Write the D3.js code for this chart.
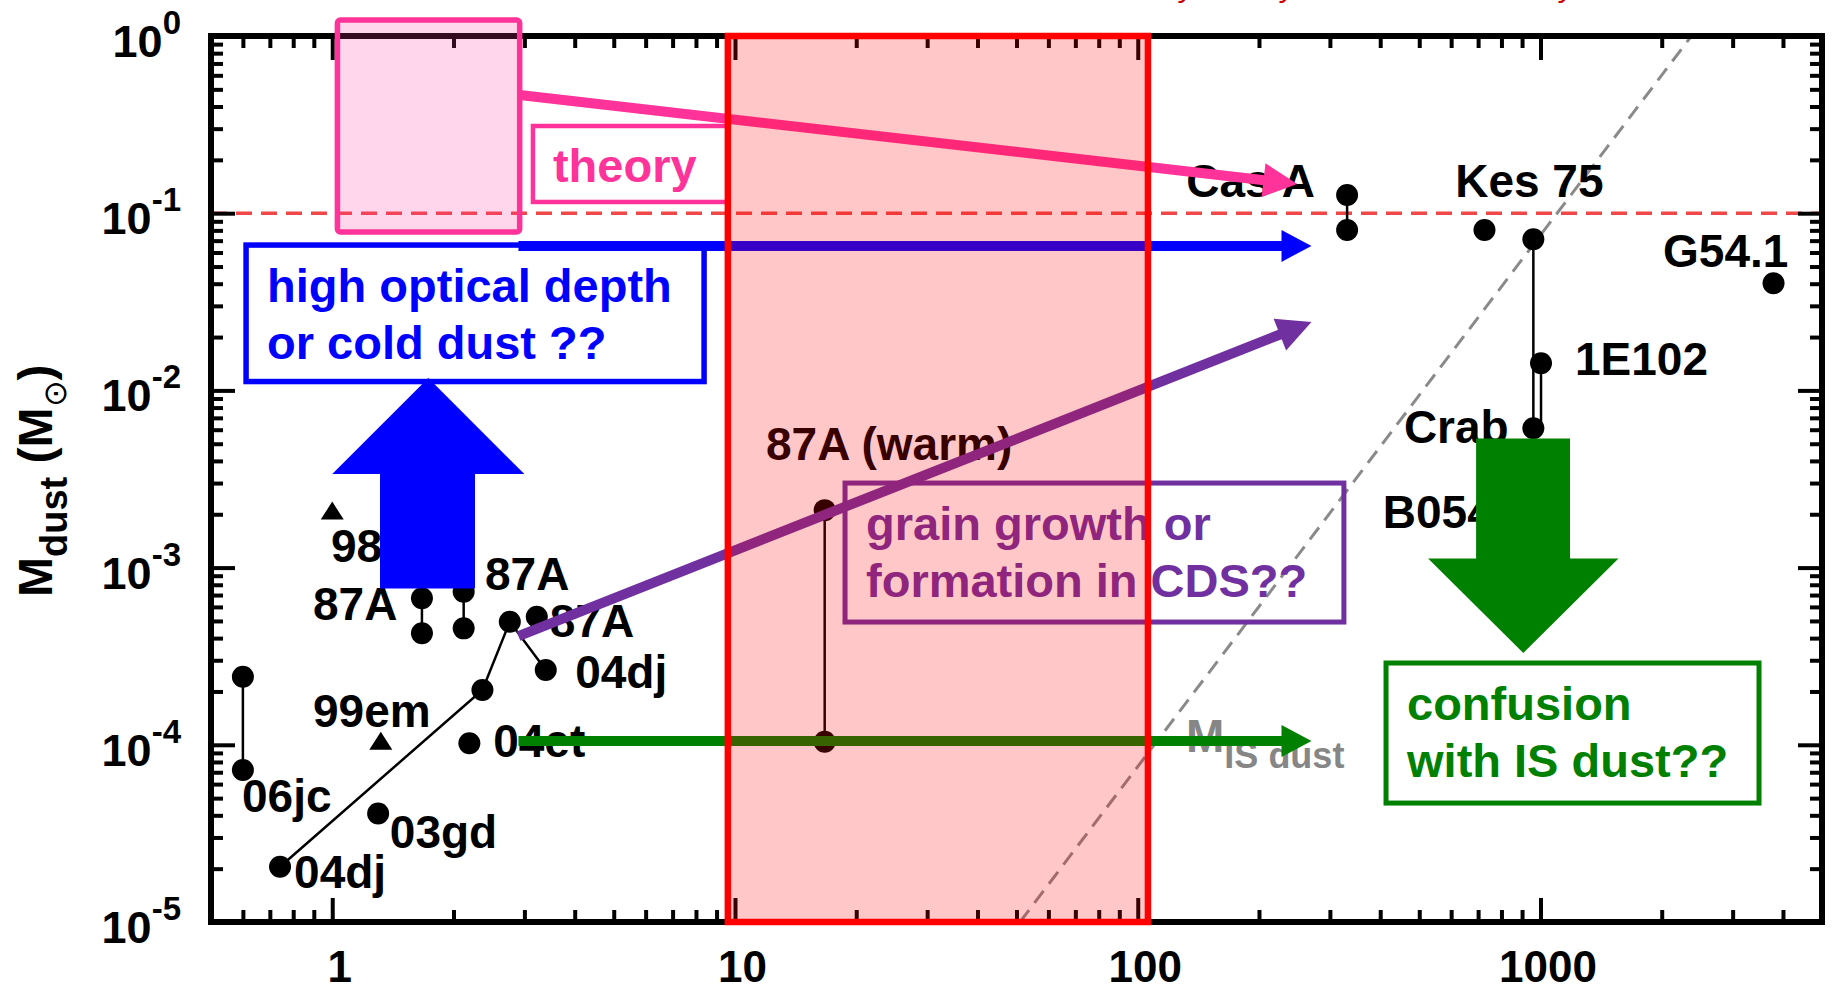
<!DOCTYPE html>
<html>
<head>
<meta charset="utf-8">
<script src="https://cdn.jsdelivr.net/npm/d3@7"></script>
<style>
  html, body { margin: 0; padding: 0; background: #fff; }
  svg { display: block; font-family: "Liberation Sans", Arial, Helvetica, sans-serif; font-weight: bold; }
</style>
</head>
<body>
<svg id="chart" width="1835" height="990"></svg>
<script>
// dust mass vs age: [age (yr), M_dust (Msun)]
const sn06jc    = [[0.6, 2.42e-4], [0.6, 7.2e-5]];
const sn04dj    = [[0.742, 2.05e-5], [2.36, 2.04e-4], [2.76, 4.95e-4], [3.39, 2.64e-4]];
const sn87A_a   = [[1.67, 6.71e-4], [1.67, 4.26e-4]];
const sn87A_b   = [[2.12, 7.31e-4], [2.12, 4.54e-4]];
const sn87A_c   = [[3.22, 5.28e-4]];
const sn87Awarm = [[16.7, 2.11e-3], [16.7, 1.04e-4]];
const sn03gd    = [[1.3, 4.1e-5]];
const sn04et    = [[2.19, 1.02e-4]];
const casA      = [[331, 0.1267], [331, 0.0804]];
const kes75     = [[726, 0.0804]];
const kesCrab   = [[960, 0.0713], [960, 6.11e-3]];
const e0102     = [[1003, 0.01422], [1003, 6.11e-3]];
const g541      = [[3790, 0.0402]];
// upper limits (triangles): 98S, 99em
const limits    = [[1.0, 2.07e-3], [1.32, 1.04e-4]];

const joined = [sn06jc, sn04dj, sn87A_a, sn87A_b, sn87Awarm, casA, kesCrab, e0102];
const dots = [].concat(sn06jc, sn04dj, sn87A_a, sn87A_b, sn87A_c, sn87Awarm, sn03gd,
                       sn04et, casA, kes75, kesCrab, [e0102[0]], g541);

// object names, anchored (left, baseline) in data units
const labelText = ["Cas A", "Kes 75", "G54.1", "1E102", "Crab", "B0540", "87A (warm)", "98S",
                   "87A", "87A", "87A", "04dj", "99em", "04et", "06jc", "03gd", "04dj"];
const labelAt = [[132, 0.1234], [614, 0.1234], [2015, 0.0497], [1218, 0.01222], [458, 5.05e-3],
                 [406, 1.67e-3], [11.94, 4.05e-3], [0.993, 1.075e-3], [0.896, 5.06e-4],
                 [2.395, 7.47e-4], [3.47, 4.06e-4], [4.01, 2.09e-4], [0.896, 1.26e-4],
                 [2.51, 8.53e-5], [0.597, 4.18e-5], [1.39, 2.62e-5], [0.804, 1.555e-5]];

// reference lines
const theoryLevel = 0.1;
const isDustLine = [[51, 1e-5], [2370, 1]];

// ticks
const xMajor = [1, 10, 100, 1000];
const xTickLabels = ["1", "10", "100", "1000"];
const yMajor = [1e-5, 1e-4, 1e-3, 1e-2, 1e-1, 1];
const yExp = ["-5", "-4", "-3", "-2", "-1", "0"];

// annotation overlays (data units)
const pinkBox   = [[1.03, 2.92], [0.0783, 1.23]];
const theoryBox = [[3.15, 9.6], [0.1157, 0.3105]];
const blueBox   = [[0.611, 8.38], [0.01122, 0.0661]];
const purpleBox = [[18.76, 325], [4.93e-4, 3.0e-3]];
const greenBox  = [[413.5, 3488], [4.69e-5, 2.894e-4]];
const redBand   = [[9.6, 106], [1e-5, 1]];
const arrowPink   = [[2.92, 0.465], [249, 0.146]];
const arrowBlue   = [[2.9, 0.0654], [270, 0.0654]];
const arrowPurple = [[2.9, 4.11e-4], [270, 0.0243]];
const arrowGreen  = [[2.9, 1.05e-4], [270, 1.05e-4]];
const blueUp    = {shaft: [1.314, 2.262], head: [1.0, 3.0], tail: 7.62e-4, neck: 3.37e-3, tip: 0.01175};
const greenDown = {shaft: [692, 1184], head: [526, 1562], tail: 5.35e-3, neck: 1.125e-3, tip: 3.3e-4};

const svg = d3.select("#chart");
const x = d3.scaleLog().domain([0.5, 5000]).range([211, 1822]);
const y = d3.scaleLog().domain([1e-5, 1]).range([922, 36]);
const X0 = x.range()[0], X1 = x.range()[1], Y0 = y.range()[1], Y1 = y.range()[0];

svg.append("defs").append("clipPath").attr("id", "plot")
  .append("rect").attr("x", X0).attr("y", Y0).attr("width", X1 - X0).attr("height", Y1 - Y0);

// dashed reference lines
const ref = svg.append("g").attr("clip-path", "url(#plot)");
ref.append("line")
  .attr("x1", X0).attr("x2", X1).attr("y1", y(theoryLevel)).attr("y2", y(theoryLevel))
  .attr("stroke", "#f04848").attr("stroke-width", 3.5).attr("stroke-dasharray", "16,9");
ref.append("path")
  .attr("d", d3.line().x(d => x(d[0])).y(d => y(d[1]))(isDustLine))
  .attr("stroke", "#8a8a8a").attr("stroke-width", 3).attr("stroke-dasharray", "15,9").attr("fill", "none");

// data
const line = d3.line().x(d => x(d[0])).y(d => y(d[1]));
const dataG = svg.append("g");
dataG.selectAll("path.l").data(joined).join("path").attr("class", "l")
  .attr("d", line).attr("fill", "none").attr("stroke", "#000").attr("stroke-width", 2.5);
dataG.selectAll("circle").data(dots).join("circle")
  .attr("cx", d => x(d[0])).attr("cy", d => y(d[1])).attr("r", 11).attr("fill", "#000");
dataG.selectAll("path.t").data(limits).join("path").attr("class", "t")
  .attr("transform", d => `translate(${x(d[0])},${y(d[1])})`)
  .attr("d", "M0,-10L11.5,8L-11.5,8Z").attr("fill", "#000");

svg.append("g").selectAll("text").data(labelText).join("text")
  .attr("x", (d, i) => x(labelAt[i][0])).attr("y", (d, i) => y(labelAt[i][1]))
  .attr("font-size", 46).attr("fill", "#000").text(d => d);

// M_IS dust label
const isLab = svg.append("text").attr("x", x(131.8)).attr("y", y(9.1e-5))
  .attr("font-size", 46).attr("fill", "#868686");
isLab.append("tspan").text("M");
isLab.append("tspan").attr("font-size", 36).attr("dy", 16).text("IS dust");

// axes
const axes = svg.append("g");
function tickAxis(axisFn, scale, vals, size, tr) {
  axes.append("g").attr("transform", tr)
    .call(axisFn(scale).tickValues(vals).tickSize(size).tickFormat(""))
    .call(g => g.select(".domain").remove())
    .call(g => g.selectAll("line").attr("stroke", "#000").attr("stroke-width", 4));
}
function minorTicks(lo, hi) {
  const out = [];
  for (let e = Math.floor(Math.log10(lo)); e <= Math.ceil(Math.log10(hi)); e++)
    for (let m = 2; m <= 9; m++) {
      const v = m * Math.pow(10, e);
      if (v > lo * 1.0001 && v < hi * 0.9999) out.push(v);
    }
  return out;
}
const xMinor = minorTicks(0.5, 5000), yMinor = minorTicks(1e-5, 1);
tickAxis(d3.axisBottom, x, xMinor, -12, `translate(0,${Y1})`);
tickAxis(d3.axisBottom, x, xMajor, -24, `translate(0,${Y1})`);
tickAxis(d3.axisTop, x, xMinor, -12, `translate(0,${Y0})`);
tickAxis(d3.axisTop, x, xMajor, -24, `translate(0,${Y0})`);
tickAxis(d3.axisLeft, y, yMinor, -12, `translate(${X0},0)`);
tickAxis(d3.axisLeft, y, yMajor, -24, `translate(${X0},0)`);
tickAxis(d3.axisRight, y, yMinor, -12, `translate(${X1},0)`);
tickAxis(d3.axisRight, y, yMajor, -24, `translate(${X1},0)`);

axes.append("rect").attr("x", X0).attr("y", Y0).attr("width", X1 - X0).attr("height", Y1 - Y0)
  .attr("fill", "none").attr("stroke", "#000").attr("stroke-width", 6);

axes.append("g").attr("transform", `translate(0,${Y1})`)
  .call(d3.axisBottom(x).tickValues(xMajor).tickSize(0).tickPadding(29)
        .tickFormat((d, i) => xTickLabels[i]))
  .call(g => g.select(".domain").remove())
  .call(g => g.attr("font-family", null).attr("font-size", null))
  .call(g => g.selectAll("text").attr("font-size", 44).attr("dx", 7).attr("fill", "#000"));

const yl = axes.selectAll("text.yl").data(yMajor).join("text").attr("class", "yl")
  .attr("x", 181).attr("y", d => y(d) + 21).attr("text-anchor", "end").attr("font-size", 45);
yl.append("tspan").text("10");
yl.append("tspan").attr("font-size", 33).attr("dy", -23).text((d, i) => yExp[i]);

const yt = svg.append("text").attr("transform", "translate(52,597) rotate(-90)").attr("font-size", 48);
yt.append("tspan").text("M");
yt.append("tspan").attr("font-size", 38).attr("dy", 15).text("dust");
yt.append("tspan").attr("dy", -15).text(" (M");
yt.append("tspan").attr("font-size", 32).attr("font-weight", "normal").attr("dy", 14).text("\u2299");
yt.append("tspan").attr("dy", -14).text(")");

// caption running off the top edge (only descenders visible)
const cap = svg.append("text").attr("y", -3).attr("font-size", 30).attr("font-style", "italic")
  .attr("font-weight", "normal").attr("fill", "#cc0000");
[1180, 1281, 1560].forEach(px => cap.append("tspan").attr("x", px).text("y"));

// annotations
const ann = svg.append("g");
function box(b, stroke, width, fill) {
  return ann.append("rect")
    .attr("x", x(b[0][0])).attr("y", y(b[1][1]))
    .attr("width", x(b[0][1]) - x(b[0][0])).attr("height", y(b[1][0]) - y(b[1][1]))
    .attr("fill", fill || "none").attr("stroke", stroke).attr("stroke-width", width);
}
function boxText(b, lines, color) {
  const t = ann.append("text").attr("font-size", 47).attr("fill", color);
  lines.forEach((s, i) => t.append("tspan").attr("x", x(b[0][0]) + 21)
    .attr("y", y(b[1][1]) + 57 + i * 57).text(s));
}
function arrow(p, color, width, headLen, headHalf) {
  const x0 = x(p[0][0]), y0 = y(p[0][1]), x1 = x(p[1][0]), y1 = y(p[1][1]);
  const L = Math.hypot(x1 - x0, y1 - y0), ux = (x1 - x0) / L, uy = (y1 - y0) / L;
  const bx = x1 - ux * headLen, by = y1 - uy * headLen;
  ann.append("line").attr("x1", x0).attr("y1", y0).attr("x2", bx + ux * 3).attr("y2", by + uy * 3)
    .attr("stroke", color).attr("stroke-width", width);
  ann.append("path").attr("fill", color)
    .attr("d", d3.line()([[x1, y1], [bx - uy * headHalf, by + ux * headHalf], [bx + uy * headHalf, by - ux * headHalf]]) + "Z");
}
function blockArrow(a, color) {
  const tipX = Math.sqrt(a.head[0] * a.head[1]);
  const pts = [[a.shaft[0], a.tail], [a.shaft[0], a.neck], [a.head[0], a.neck], [tipX, a.tip],
               [a.head[1], a.neck], [a.shaft[1], a.neck], [a.shaft[1], a.tail]];
  ann.append("path").attr("fill", color).attr("d", line(pts) + "Z");
}

box(pinkBox, "#ff3399", 5.5, "rgba(255,51,153,0.2)").attr("rx", 3);
box(theoryBox, "#ff3399", 4.5);
ann.append("text").attr("x", x(theoryBox[0][0]) + 20).attr("y", y(theoryBox[1][1]) + 56)
  .attr("font-size", 47).attr("fill", "#ff3399").text("theory");
arrow(arrowPink, "#ff3399", 10, 34, 17);

box(blueBox, "#0000ff", 5.5);
boxText(blueBox, ["high optical depth", "or cold dust ??"], "#0000ff");
arrow(arrowBlue, "#0000ff", 10, 30, 16);
blockArrow(blueUp, "#0000ff");

box(purpleBox, "#7030a0", 5);
boxText(purpleBox, ["grain growth or", "formation in CDS??"], "#7030a0");
arrow(arrowPurple, "#7030a0", 10, 34, 17);

arrow(arrowGreen, "#008000", 10, 30, 16);
blockArrow(greenDown, "#008000");
box(greenBox, "#008000", 5);
boxText(greenBox, ["confusion", "with IS dust??"], "#008000");

// translucent red band on top
box(redBand, "#ff0000", 6.5, "rgba(255,0,0,0.22)");
</script>
</body>
</html>
